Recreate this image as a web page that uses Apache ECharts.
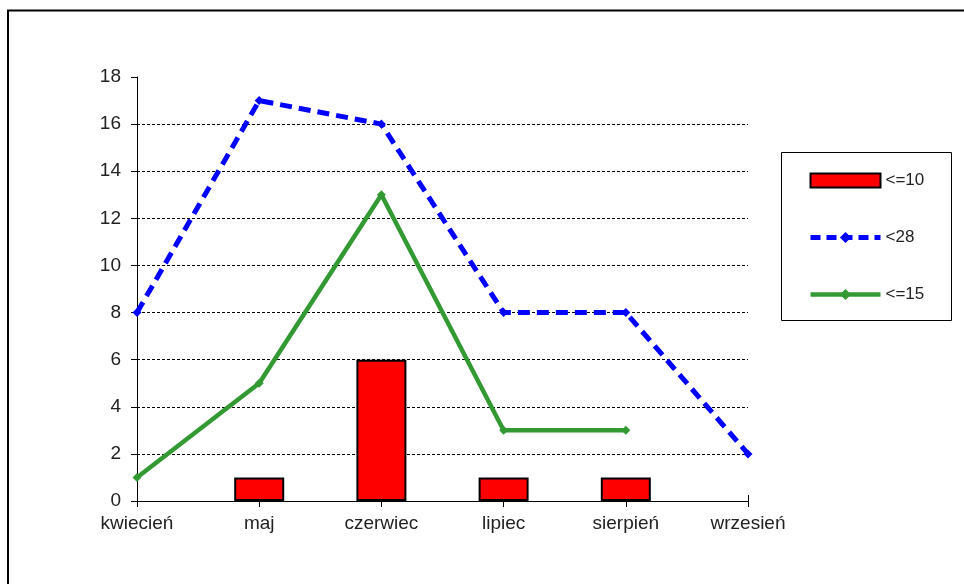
<!DOCTYPE html>
<html>
<head>
<meta charset="utf-8">
<script src="https://cdn.jsdelivr.net/npm/echarts@6/dist/echarts.min.js"></script>
<style>
html,body{margin:0;padding:0;background:#fff;}
#c{width:964px;height:584px;}
</style>
</head>
<body>
<div id="c"></div>
<script>
const categories = ['kwiecień', 'maj', 'czerwiec', 'lipiec', 'sierpień', 'wrzesień'];
const seriesNames = ['<=10', '<28', '<=15'];
const le10 = ['-', 1, 6, 1, 1, '-'];
const lt28 = [8, 17, 16, 8, 8, 2];
const le15 = [1, 5, 13, 3, 3, '-'];
const yMin = 0, yMax = 18, yStep = 2;

const font = 'Liberation Sans, Arial, sans-serif';
const txt = '#222';
const chart = echarts.init(document.getElementById('c'), null, {renderer: 'canvas'});
const splitColors = [];
for (let v = yMin; v <= yMax; v += yStep) splitColors.push(v === yMax ? 'rgba(0,0,0,0)' : '#000');

chart.setOption({
  animation: false,
  backgroundColor: '#fff',
  textStyle: {fontFamily: font},
  graphic: [
    {type: 'rect', shape: {x: 8, y: 10.5, width: 1000, height: 600}, style: {fill: 'none', stroke: '#000', lineWidth: 2}, z: -1},
    {type: 'rect', shape: {x: 781.5, y: 152.5, width: 170, height: 168}, style: {fill: '#fff', stroke: '#000', lineWidth: 1}, z: -1}
  ],
  grid: {left: 137, top: 77, width: 611, height: 424, containLabel: false},
  legend: {
    orient: 'vertical', left: 808, top: 152,
    padding: [20, 0, 0, 0],
    itemWidth: 70, itemHeight: 14, itemGap: 40,
    textStyle: {fontFamily: font, fontSize: 17, color: txt, padding: [0, 0, 0, 0]},
    data: [
      {name: seriesNames[0], icon: 'rect', itemStyle: {borderWidth: 2, borderColor: '#000'}},
      {name: seriesNames[1], lineStyle: {width: 5, type: [10, 6]}},
      {name: seriesNames[2], lineStyle: {width: 4.5}}
    ]
  },
  xAxis: [{
    type: 'category', data: categories, boundaryGap: false,
    axisLine: {lineStyle: {color: '#000', width: 1}},
    axisTick: {show: true, length: 6, lineStyle: {color: '#000'}},
    axisLabel: {color: txt, fontSize: 19, margin: 13, fontFamily: font},
    splitLine: {show: false}
  }, {
    type: 'category', data: categories, boundaryGap: false, position: 'bottom',
    axisLine: {show: false},
    axisTick: {show: true, inside: true, length: 6, lineStyle: {color: '#000'}},
    axisLabel: {show: false},
    splitLine: {show: false}
  }],
  yAxis: {
    type: 'value', min: yMin, max: yMax, interval: yStep,
    axisLine: {show: true, lineStyle: {color: '#000', width: 1}},
    axisTick: {show: true, length: 6, lineStyle: {color: '#000'}},
    axisLabel: {color: txt, fontSize: 19, margin: 16, fontFamily: font},
    splitLine: {show: true, lineStyle: {color: splitColors, type: [3, 2], width: 1}}
  },
  series: [
    {
      name: seriesNames[0], type: 'bar', data: le10, barWidth: 50,
      itemStyle: {color: '#ff0000', borderColor: '#000', borderWidth: 2},
      z: 2
    },
    {
      name: seriesNames[1], type: 'line', data: lt28,
      lineStyle: {color: '#0000ff', width: 5, type: [12, 7]},
      itemStyle: {color: '#0000ff'},
      symbol: 'diamond', symbolSize: 9, showSymbol: true,
      z: 3
    },
    {
      name: seriesNames[2], type: 'line', data: le15,
      lineStyle: {color: '#339933', width: 4.5},
      itemStyle: {color: '#339933'},
      symbol: 'diamond', symbolSize: 9, showSymbol: true,
      z: 4
    }
  ]
});
</script>
</body>
</html>
